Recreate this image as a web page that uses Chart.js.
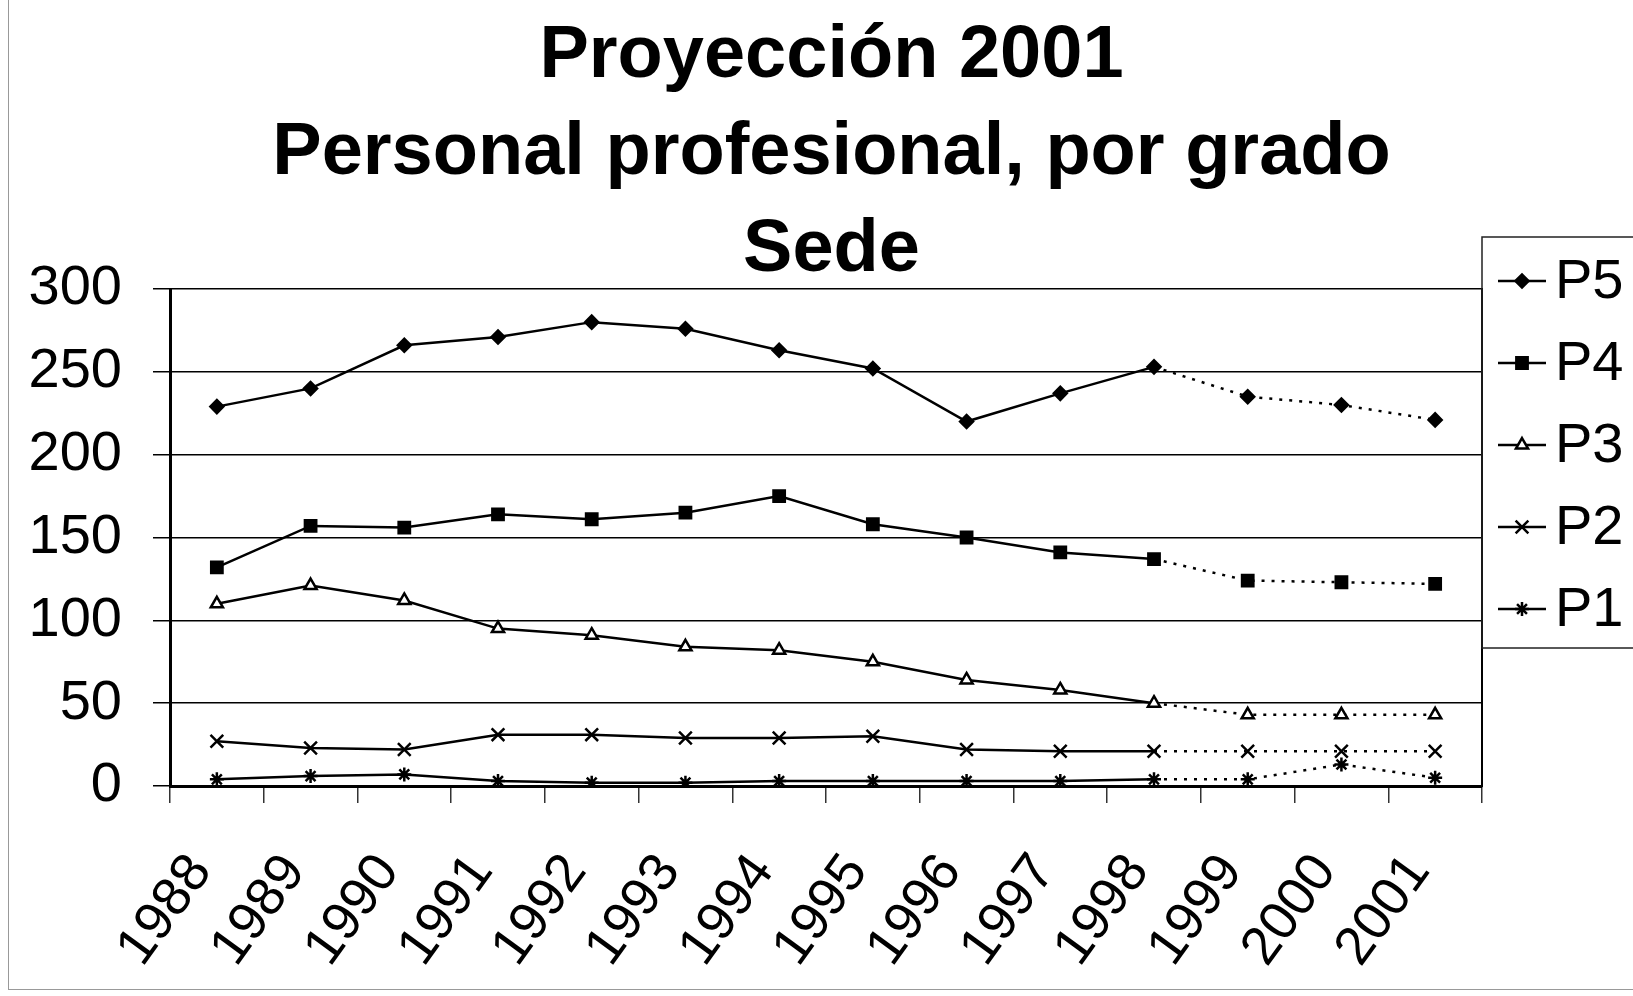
<!DOCTYPE html>
<html>
<head>
<meta charset="utf-8">
<script src="https://cdn.jsdelivr.net/npm/chart.js@4/dist/chart.umd.min.js"></script>
<style>
  body { margin: 0; background: #fff; }
  #wrap { position: relative; width: 1633px; height: 996px; }
  #frame { position: absolute; left: 8px; top: -2px; width: 1640px; height: 991px;
           border-left: 1px solid #999; border-bottom: 1px solid #999; pointer-events: none; }
</style>
</head>
<body>
<div id="wrap">
  <canvas id="chart" width="1633" height="996"></canvas>
  <div id="frame"></div>
</div>
<script>
// años y valores (1999-2001 = proyección)
const years = ["1988", "1989", "1990", "1991", "1992", "1993", "1994", "1995", "1996", "1997", "1998", "1999", "2000", "2001"];
const p5 = [229, 240, 266, 271, 280, 276, 263, 252, 220, 237, 253, 235, 230, 221];
const p4 = [132, 157, 156, 164, 161, 165, 175, 158, 150, 141, 137, 124, 123, 122];
const p3 = [110, 121, 112, 95, 91, 84, 82, 75, 64, 58, 50, 43, 43, 43];
const p2 = [27, 23, 22, 31, 31, 29, 29, 30, 22, 21, 21, 21, 21, 21];
const p1 = [4, 6, 7, 3, 2, 2, 3, 3, 3, 3, 4, 4, 13, 5];
const yTicks = [0, 50, 100, 150, 200, 250, 300];

const FONT = "'Liberation Sans', Arial, sans-serif";
const lastReal = 10; // índice de 1998, después línea punteada

function serie(label, data, style, radius, fill) {
    return {
        label: label,
        data: data,
        borderColor: "#000",
        borderWidth: 2.5,
        pointStyle: style,
        pointRadius: radius,
        pointBorderWidth: 2.5,
        pointBorderColor: "#000",
        pointBackgroundColor: fill,
        tension: 0,
        segment: {
            borderDash: ctx => ctx.p0DataIndex >= lastReal ? [3, 7] : undefined
        }
    };
}

const datasets = [
    serie("P5", p5, "rectRot", 6.5, "#000"),
    serie("P4", p4, "rect", 8, "#000"),
    serie("P3", p3, "triangle", 7, "#fff"),
    serie("P2", p2, "crossRot", 9, "#000"),
    serie("P1", p1, "star", 7, "#000")
];

// leyenda a la derecha: línea + marcador, dentro de un recuadro
const sideLegend = {
    id: "sideLegend",
    afterDraw(chart) {
        const { ctx, chartArea } = chart;
        const x0 = chartArea.right;
        const top = chartArea.top - 52;
        ctx.save();
        ctx.strokeStyle = "#222";
        ctx.lineWidth = 1.5;
        ctx.strokeRect(x0, top, 200, 411);
        chart.data.datasets.forEach((ds, i) => {
            const y = chartArea.top - 8 + i * 82;
            ctx.strokeStyle = "#000";
            ctx.lineWidth = 2.5;
            ctx.setLineDash([]);
            ctx.beginPath();
            ctx.moveTo(x0 + 16, y);
            ctx.lineTo(x0 + 64, y);
            ctx.stroke();
            ctx.fillStyle = ds.pointBackgroundColor;
            Chart.helpers.drawPoint(ctx, {
                pointStyle: ds.pointStyle,
                radius: ds.pointRadius,
                borderWidth: ds.pointBorderWidth,
                rotation: 0
            }, x0 + 40, y);
            ctx.fillStyle = "#000";
            ctx.font = "56px " + FONT;
            ctx.textBaseline = "middle";
            ctx.textAlign = "left";
            ctx.fillText(ds.label, x0 + 73, y + 2);
        });
        ctx.restore();
    }
};

new Chart(document.getElementById("chart"), {
    type: "line",
    data: { labels: years, datasets: datasets },
    plugins: [sideLegend],
    options: {
        responsive: false,
        animation: false,
        layout: { padding: { left: 30, right: 0, top: 0, bottom: 0 } },
        plugins: {
            legend: { display: false },
            tooltip: { enabled: false },
            title: {
                display: true,
                text: ["Proyección 2001", "Personal profesional, por grado", "Sede"],
                color: "#000",
                font: { family: FONT, size: 74, weight: "bold", lineHeight: "97px" },
                padding: { top: 8, bottom: -10 }
            }
        },
        scales: {
            x: {
                type: "category",
                offset: true,
                afterFit: scale => { scale.height = 210; },
                grid: {
                    offset: true,
                    drawOnChartArea: false,
                    drawTicks: true,
                    tickLength: 17,
                    color: "#333",
                    lineWidth: 1.5
                },
                border: { display: true, color: "#000", width: 3 },
                ticks: {
                    color: "#000",
                    font: { family: FONT, size: 54 },
                    minRotation: 54,
                    maxRotation: 54,
                    padding: 40,
                    labelOffset: -16,
                    autoSkip: false
                }
            },
            y: {
                min: 0,
                max: 300,
                afterBuildTicks: scale => { scale.ticks = yTicks.map(v => ({ value: v })); },
                afterFit: scale => { scale.width = 140; },
                grid: {
                    color: "#000",
                    lineWidth: 1.5,
                    drawTicks: true,
                    tickLength: 17
                },
                border: { display: true, color: "#000", width: 3 },
                ticks: {
                    color: "#000",
                    font: { family: FONT, size: 56 },
                    padding: 31
                }
            },
            y2: {
                position: "right",
                display: true,
                min: 0,
                max: 300,
                grid: { display: false, drawTicks: false },
                border: { display: true, color: "#000", width: 2 },
                ticks: { display: false },
                afterFit: scale => { scale.width = 151; }
            }
        }
    }
});
</script>
</body>
</html>
